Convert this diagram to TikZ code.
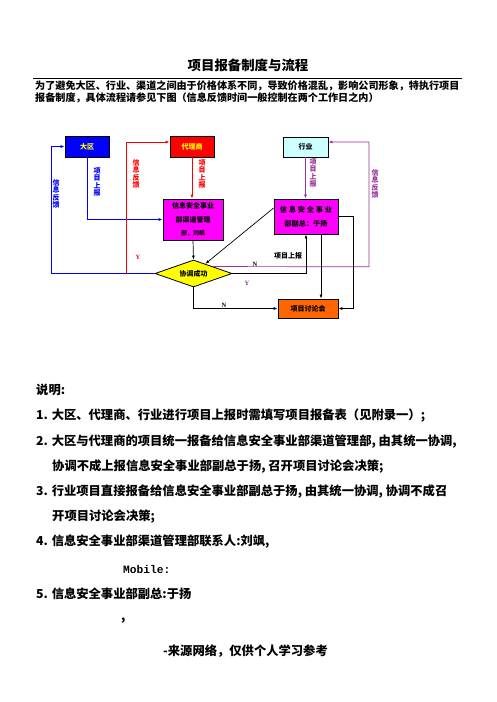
\documentclass[tikz,border=0pt]{standalone}
\usepackage{fontspec}
\setmainfont{Noto Sans CJK SC}
\newfontfamily\monof{Liberation Mono}[BoldFont={Liberation Mono Bold}]
\newfontfamily\serf{Liberation Serif}
\usetikzlibrary{shapes.geometric,arrows.meta,calc}
\definecolor{pur}{RGB}{153,51,153}
\definecolor{mag}{RGB}{255,0,255}
\definecolor{org}{RGB}{255,102,0}
\definecolor{cyn}{RGB}{204,255,255}
\definecolor{yel}{RGB}{255,255,0}
\definecolor{bl}{RGB}{0,0,255}
\definecolor{rd}{RGB}{255,0,0}
\begin{document}
\begin{tikzpicture}[x=1pt,y=-1pt,
  box/.style={draw=black,line width=0.8pt,inner sep=0pt,align=center,font=\bfseries\fontsize{7}{8}\selectfont},
  vlab/.style={inner sep=0pt,align=center,font=\bfseries\fontsize{7}{7.5}\selectfont},
  ln/.style={line width=0.7pt},
  arr/.style={-{Latex[length=4pt,width=3pt]}},
  txt/.style={inner sep=0pt,anchor=west,font=\bfseries\fontsize{12.3}{13}\selectfont},
  sm/.style={inner sep=0pt,font=\serf\bfseries\fontsize{6.5}{7}\selectfont}
]
\useasboundingbox (0,0) rectangle (496,702);
\fill[white] (0,0) rectangle (496,702);

% title and intro
\node[inner sep=0pt,font=\bfseries\fontsize{13.4}{14}\selectfont] (title) at (248,65) {项目报备制度与流程};
\coordinate (r1) at (33,78);
\coordinate (r2) at (462,78);
\draw[line width=0.8pt] (r1) -- (r2);
\node[inner sep=0pt,anchor=west,font=\bfseries\fontsize{10.1}{11}\selectfont] (i1) at (35,86) {为了避免大区、行业、渠道之间由于价格体系不同，导致价格混乱，影响公司形象，特执行项目};
\node[inner sep=0pt,anchor=west,font=\bfseries\fontsize{10.1}{11}\selectfont] (i2) at (35,98) {报备制度，具体流程请参见下图（信息反馈时间一般控制在两个工作日之内）};

% diagram nodes
\node[box,fill=bl,text=yel,minimum width=44pt,minimum height=21pt] (dq) at (87,146.5) {大区};
\node[box,fill=rd,text=yel,minimum width=44pt,minimum height=21pt] (dl) at (192,146.5) {代理商};
\node[box,fill=cyn,minimum width=45pt,minimum height=20pt] (hy) at (305.5,147) {行业};
\node[box,fill=mag,minimum width=60pt,minimum height=41pt,font=\bfseries\fontsize{7}{13.5}\selectfont] (qd) at (193,219.5) {信息安全事业\\部渠道管理\\{\fontsize{6}{6}\selectfont 部，刘飒}};
\node[box,fill=mag,minimum width=64pt,minimum height=35pt,font=\bfseries\fontsize{7.2}{14}\selectfont] (fz) at (306,216.5) {信\hspace{1.8pt}息\hspace{1.8pt}安\hspace{1.8pt}全\hspace{1.8pt}事\hspace{1.8pt}业\\部副总：于扬};
\node[box,diamond,fill=yel,minimum width=77pt,minimum height=27pt,aspect=2.85] (dm) at (193.5,273.5) {协调成功};
\node[box,fill=org,minimum width=60pt,minimum height=19pt] (tl) at (308,308.5) {项目讨论会};

% helper coordinates
\coordinate (bx) at (51,273.5);
\coordinate (rx) at (126,273.5);
\coordinate (px) at (369,266.75);
\coordinate (kx) at (353,216.5);

% blue
\draw[ln,bl,arr] (dq.south) |- (qd.west);
\draw[ln,bl,arr] (dm.west) -- (bx) |- (dq.west);
\node[vlab,text=bl] (lb1) at (97,182) {项\\目\\上\\报};
\node[vlab,text=bl] (lb2) at (56,194) {信\\息\\反\\馈};
% red
\draw[ln,rd,arr] (dl.south) -- (dl.south |- qd.north);
\draw[ln,rd,arr] (rx) |- ([yshift=4.5pt]dl.west);
\node[vlab,text=rd] (lr1) at (136,174) {信\\息\\反\\馈};
\node[vlab,text=rd] (lr2) at (202,174) {项\\目\\上\\报};
\node[sm,text=rd] (yr) at (138,257) {Y};
% purple
\draw[ln,pur,arr] (hy.south) -- (hy.south |- fz.north);
\draw[ln,pur,arr] (dm.north east) -- (px) |- ([yshift=5pt]hy.east);
\node[vlab,text=pur] (lp1) at (313,173) {项\\目\\上\\报};
\node[vlab,text=pur] (lp2) at (375,184) {信\\息\\反\\馈};
\node[sm,text=pur] (yp) at (247,283) {Y};
% black
\draw[ln,arr] (qd.south) -- (dm.north);
\draw[ln,arr] ([yshift=8.5pt]fz.west) -- (dm);
\draw[ln,arr] (dm.east) -| (fz.south);
\draw[ln,arr] (dm.south) |- (tl.west);
\draw[ln,arr] ([xshift=15pt]fz.south) -- ([xshift=13pt]tl.north);
\draw[ln,arr] (fz.east) -- (kx) |- (tl.east);
\node[inner sep=0pt,font=\bfseries\fontsize{7}{8}\selectfont] (lk) at (288,256) {项目上报};
\node[sm] (n1) at (255,264) {N};
\node[sm] (n2) at (224,305) {N};

% explanation text
\node[txt] (s0) at (36,390) {说明:};
\node[txt] (s1) at (36,416) {1. 大区、代理商、行业进行项目上报时需填写项目报备表（见附录一）;};
\node[txt] (s2) at (36,442) {2. 大区与代理商的项目统一报备给信息安全事业部渠道管理部, 由其统一协调,};
\node[txt] (s3) at (52,467) {协调不成上报信息安全事业部副总于扬, 召开项目讨论会决策;};
\node[txt] (s4) at (36,492) {3. 行业项目直接报备给信息安全事业部副总于扬, 由其统一协调, 协调不成召};
\node[txt] (s5) at (52,517) {开项目讨论会决策;};
\node[txt] (s6) at (36,542) {4. 信息安全事业部渠道管理部联系人:刘飒,};
\node[txt,font=\monof\bfseries\fontsize{11.2}{12}\selectfont] (s7) at (123,569) {Mobile:};
\node[txt] (s8) at (36,594) {5. 信息安全事业部副总:于扬};
\node[txt] (s9) at (121,621) {,};
\node[txt] (s10) at (163,651) {-来源网络，仅供个人学习参考};
\end{tikzpicture}
\end{document}
